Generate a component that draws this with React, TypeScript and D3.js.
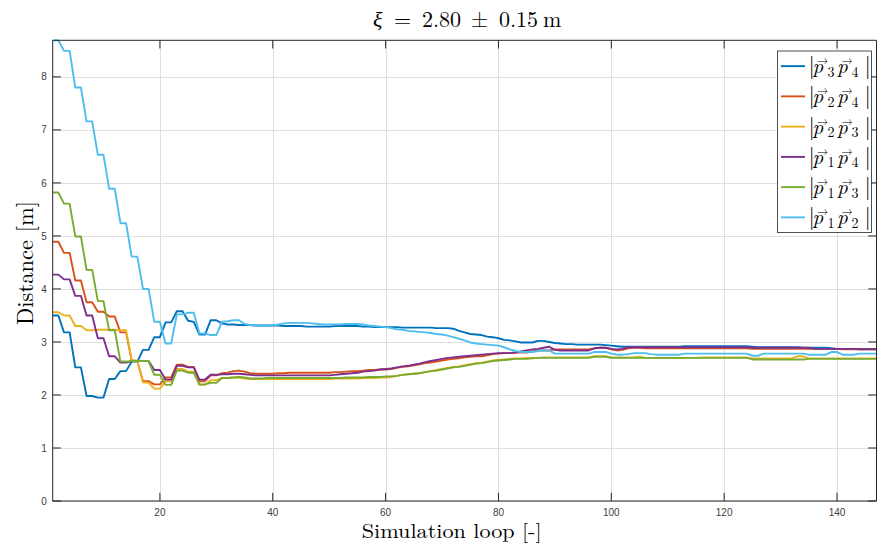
import React from 'react';
import * as d3 from 'd3';

// Series values, one per simulation loop (1..147)
const p34 = [
  3.50, 3.50, 3.18, 3.18, 2.52, 2.52, 1.98, 1.98, 1.95, 1.95,
  2.30, 2.30, 2.45, 2.45, 2.63, 2.63, 2.85, 2.85, 3.09, 3.09,
  3.37, 3.37, 3.58, 3.58, 3.40, 3.38, 3.14, 3.14, 3.41, 3.41,
  3.35, 3.33, 3.33, 3.32, 3.32, 3.32, 3.31, 3.31, 3.31, 3.31,
  3.31, 3.30, 3.30, 3.30, 3.30, 3.29, 3.29, 3.29, 3.29, 3.29,
  3.30, 3.30, 3.30, 3.30, 3.30, 3.29, 3.29, 3.28, 3.28, 3.28,
  3.28, 3.28, 3.27, 3.27, 3.27, 3.27, 3.27, 3.27, 3.26, 3.26,
  3.26, 3.25, 3.21, 3.18, 3.15, 3.14, 3.13, 3.10, 3.09, 3.07,
  3.04, 3.03, 3.01, 2.99, 2.99, 2.99, 3.02, 3.02, 3.00, 2.98,
  2.97, 2.96, 2.96, 2.95, 2.95, 2.95, 2.95, 2.95, 2.94, 2.93,
  2.92, 2.91, 2.91, 2.91, 2.91, 2.91, 2.91, 2.91, 2.91, 2.91,
  2.91, 2.91, 2.92, 2.92, 2.92, 2.92, 2.92, 2.92, 2.92, 2.92,
  2.92, 2.92, 2.92, 2.92, 2.91, 2.90, 2.90, 2.90, 2.90, 2.90,
  2.90, 2.90, 2.90, 2.89, 2.89, 2.89, 2.89, 2.89, 2.88, 2.87,
  2.87, 2.87, 2.87, 2.87, 2.87, 2.87, 2.87,
];
const p24 = [
  4.89, 4.89, 4.68, 4.68, 4.16, 4.16, 3.75, 3.75, 3.57, 3.57,
  3.48, 3.48, 3.18, 3.18, 2.65, 2.64, 2.26, 2.26, 2.20, 2.20,
  2.33, 2.33, 2.57, 2.57, 2.53, 2.53, 2.26, 2.26, 2.37, 2.37,
  2.41, 2.42, 2.45, 2.46, 2.44, 2.41, 2.40, 2.40, 2.40, 2.40,
  2.41, 2.41, 2.42, 2.42, 2.42, 2.42, 2.42, 2.42, 2.42, 2.42,
  2.43, 2.43, 2.44, 2.45, 2.45, 2.46, 2.47, 2.47, 2.48, 2.48,
  2.49, 2.51, 2.53, 2.54, 2.56, 2.58, 2.60, 2.61, 2.63, 2.65,
  2.67, 2.68, 2.69, 2.71, 2.72, 2.73, 2.73, 2.75, 2.77, 2.78,
  2.79, 2.79, 2.80, 2.80, 2.80, 2.82, 2.84, 2.84, 2.84, 2.86,
  2.86, 2.86, 2.86, 2.86, 2.86, 2.86, 2.88, 2.89, 2.89, 2.86,
  2.84, 2.85, 2.88, 2.89, 2.89, 2.88, 2.88, 2.88, 2.88, 2.88,
  2.88, 2.88, 2.88, 2.88, 2.88, 2.88, 2.88, 2.88, 2.88, 2.88,
  2.88, 2.88, 2.88, 2.88, 2.87, 2.87, 2.87, 2.87, 2.87, 2.87,
  2.87, 2.87, 2.87, 2.87, 2.87, 2.87, 2.87, 2.87, 2.87, 2.87,
  2.86, 2.86, 2.86, 2.86, 2.86, 2.86, 2.86,
];
const p23 = [
  3.56, 3.56, 3.50, 3.50, 3.30, 3.30, 3.22, 3.22, 3.23, 3.23,
  3.23, 3.23, 3.22, 3.22, 2.66, 2.64, 2.24, 2.23, 2.12, 2.12,
  2.26, 2.26, 2.49, 2.49, 2.44, 2.44, 2.19, 2.19, 2.28, 2.28,
  2.32, 2.32, 2.33, 2.33, 2.31, 2.30, 2.30, 2.30, 2.30, 2.30,
  2.30, 2.30, 2.30, 2.30, 2.30, 2.30, 2.30, 2.30, 2.30, 2.30,
  2.31, 2.31, 2.31, 2.31, 2.31, 2.32, 2.32, 2.32, 2.33, 2.33,
  2.34, 2.36, 2.38, 2.39, 2.40, 2.41, 2.43, 2.45, 2.47, 2.49,
  2.51, 2.53, 2.54, 2.56, 2.58, 2.60, 2.61, 2.63, 2.65, 2.66,
  2.67, 2.68, 2.69, 2.69, 2.70, 2.70, 2.70, 2.71, 2.71, 2.71,
  2.71, 2.71, 2.71, 2.71, 2.71, 2.71, 2.73, 2.73, 2.73, 2.71,
  2.71, 2.71, 2.71, 2.71, 2.72, 2.70, 2.70, 2.70, 2.70, 2.70,
  2.70, 2.70, 2.70, 2.70, 2.70, 2.71, 2.71, 2.71, 2.71, 2.71,
  2.71, 2.71, 2.71, 2.71, 2.69, 2.69, 2.69, 2.69, 2.69, 2.69,
  2.69, 2.69, 2.73, 2.73, 2.69, 2.69, 2.69, 2.69, 2.69, 2.69,
  2.69, 2.69, 2.69, 2.69, 2.69, 2.69, 2.69,
];
const p14 = [
  4.27, 4.27, 4.18, 4.18, 3.87, 3.87, 3.50, 3.50, 3.07, 3.07,
  2.73, 2.73, 2.61, 2.61, 2.64, 2.64, 2.64, 2.64, 2.47, 2.47,
  2.29, 2.29, 2.55, 2.55, 2.52, 2.52, 2.29, 2.29, 2.38, 2.38,
  2.39, 2.39, 2.40, 2.40, 2.39, 2.38, 2.37, 2.37, 2.37, 2.37,
  2.37, 2.37, 2.37, 2.37, 2.37, 2.37, 2.37, 2.37, 2.37, 2.37,
  2.38, 2.39, 2.40, 2.41, 2.42, 2.44, 2.45, 2.46, 2.48, 2.49,
  2.50, 2.52, 2.54, 2.55, 2.57, 2.59, 2.62, 2.64, 2.66, 2.68,
  2.70, 2.71, 2.72, 2.73, 2.74, 2.75, 2.76, 2.77, 2.78, 2.79,
  2.79, 2.79, 2.80, 2.82, 2.84, 2.86, 2.87, 2.89, 2.91, 2.85,
  2.84, 2.84, 2.84, 2.84, 2.84, 2.84, 2.88, 2.89, 2.89, 2.87,
  2.86, 2.87, 2.90, 2.90, 2.90, 2.90, 2.90, 2.90, 2.90, 2.90,
  2.90, 2.90, 2.90, 2.90, 2.90, 2.90, 2.90, 2.90, 2.90, 2.90,
  2.90, 2.90, 2.90, 2.90, 2.89, 2.89, 2.89, 2.89, 2.89, 2.89,
  2.89, 2.89, 2.89, 2.89, 2.89, 2.87, 2.87, 2.87, 2.87, 2.87,
  2.87, 2.87, 2.87, 2.86, 2.86, 2.86, 2.86,
];
const p13 = [
  5.82, 5.82, 5.61, 5.61, 4.99, 4.99, 4.36, 4.36, 3.77, 3.77,
  3.22, 3.22, 2.63, 2.63, 2.64, 2.64, 2.64, 2.64, 2.38, 2.38,
  2.19, 2.19, 2.46, 2.46, 2.42, 2.42, 2.20, 2.20, 2.23, 2.23,
  2.32, 2.32, 2.33, 2.34, 2.33, 2.31, 2.31, 2.31, 2.32, 2.32,
  2.32, 2.32, 2.32, 2.32, 2.32, 2.32, 2.32, 2.32, 2.32, 2.32,
  2.32, 2.32, 2.33, 2.33, 2.33, 2.33, 2.34, 2.34, 2.34, 2.35,
  2.35, 2.36, 2.38, 2.39, 2.40, 2.41, 2.43, 2.45, 2.46, 2.48,
  2.50, 2.52, 2.53, 2.55, 2.57, 2.59, 2.60, 2.62, 2.64, 2.65,
  2.66, 2.67, 2.68, 2.68, 2.68, 2.69, 2.70, 2.70, 2.70, 2.70,
  2.70, 2.70, 2.70, 2.70, 2.70, 2.70, 2.72, 2.72, 2.72, 2.70,
  2.70, 2.70, 2.70, 2.70, 2.70, 2.70, 2.70, 2.70, 2.70, 2.70,
  2.70, 2.70, 2.70, 2.70, 2.70, 2.70, 2.70, 2.70, 2.70, 2.70,
  2.70, 2.70, 2.70, 2.70, 2.67, 2.67, 2.67, 2.67, 2.67, 2.67,
  2.67, 2.67, 2.67, 2.67, 2.68, 2.68, 2.68, 2.68, 2.68, 2.68,
  2.68, 2.68, 2.68, 2.68, 2.68, 2.68, 2.68,
];
const p12 = [
  8.69, 8.69, 8.49, 8.49, 7.80, 7.80, 7.16, 7.16, 6.53, 6.53,
  5.89, 5.89, 5.24, 5.24, 4.61, 4.61, 4.00, 4.00, 3.38, 3.38,
  2.97, 2.97, 3.52, 3.52, 3.55, 3.55, 3.16, 3.16, 3.13, 3.13,
  3.38, 3.39, 3.41, 3.41, 3.34, 3.32, 3.31, 3.31, 3.31, 3.31,
  3.33, 3.35, 3.36, 3.36, 3.36, 3.36, 3.35, 3.34, 3.33, 3.33,
  3.33, 3.33, 3.34, 3.34, 3.34, 3.33, 3.31, 3.30, 3.29, 3.28,
  3.26, 3.24, 3.23, 3.21, 3.20, 3.19, 3.18, 3.17, 3.15, 3.14,
  3.12, 3.09, 3.06, 3.03, 2.99, 2.97, 2.96, 2.95, 2.94, 2.93,
  2.90, 2.86, 2.83, 2.81, 2.81, 2.81, 2.83, 2.84, 2.84, 2.78,
  2.78, 2.78, 2.78, 2.78, 2.78, 2.78, 2.81, 2.81, 2.81, 2.78,
  2.76, 2.76, 2.77, 2.79, 2.79, 2.79, 2.77, 2.76, 2.76, 2.76,
  2.76, 2.76, 2.78, 2.78, 2.78, 2.78, 2.78, 2.78, 2.78, 2.78,
  2.78, 2.78, 2.78, 2.78, 2.74, 2.74, 2.78, 2.78, 2.78, 2.78,
  2.78, 2.78, 2.78, 2.78, 2.76, 2.76, 2.76, 2.76, 2.81, 2.81,
  2.76, 2.76, 2.76, 2.78, 2.78, 2.78, 2.78,
];

const seriesNames = [
  ['3', '4'],
  ['2', '4'],
  ['2', '3'],
  ['1', '4'],
  ['1', '3'],
  ['1', '2'],
];
const seriesValues = [p34, p24, p23, p14, p13, p12];
const seriesColors = ['#0072BD', '#D95319', '#EDB120', '#7E2F8E', '#77AC30', '#4DBEEE'];

const xTicks = [20, 40, 60, 80, 100, 120, 140];
const yTicks = [0, 1, 2, 3, 4, 5, 6, 7, 8];
const xDomain = [1, 147];
const yDomain = [0, 8.69];

const titleParts = { xi: 'ξ', eq: '=', a: '2.80', pm: '±', b: '0.15', unit: 'm' };
const xLabel = 'Simulation loop [-]';
const yLabel = 'Distance [m]';

const W = 878;
const H = 554;
const L = 52.7;
const R = 876.5;
const T = 40.3;
const B = 501;

export default function App() {
  const x = d3.scaleLinear().domain(xDomain).range([L, R]);
  const y = d3.scaleLinear().domain(yDomain).range([B, T]);
  const line = d3
    .line<number>()
    .x((_, i) => x(i + 1))
    .y((d) => y(d));

  const serif = "'Latin Modern Roman', 'CMU Serif', 'Liberation Serif', 'DejaVu Serif', serif";
  const sans = "'Liberation Sans', Arial, Helvetica, sans-serif";
  const axisColor = '#262626';
  const gridColor = '#dfdfdf';
  const tickLen = 8.2;

  const legX0 = 777.5;
  const legX1 = 871.5;
  const legY0 = 51;
  const legY1 = 232.5;
  const rowH = (legY1 - legY0) / 6;

  return (
    <svg
      width={W}
      height={H}
      viewBox={`0 0 ${W} ${H}`}
      style={{ position: 'absolute', left: 0, top: 0, background: '#fff' }}
    >
      <rect x={0} y={0} width={W} height={H} fill="#fff" />
      <defs>
        <clipPath id="plotclip">
          <rect x={L} y={T - 1} width={R - L} height={B - T + 1} />
        </clipPath>
      </defs>

      {/* grid */}
      <g>
        {xTicks.map((t) => (
          <line key={'gx' + t} x1={Math.round(x(t)) + 0.5} x2={Math.round(x(t)) + 0.5} y1={T} y2={B} stroke={gridColor} strokeWidth={1} />
        ))}
        {yTicks.map((t) => (
          <line key={'gy' + t} x1={L} x2={R} y1={Math.round(y(t)) + 0.5} y2={Math.round(y(t)) + 0.5} stroke={gridColor} strokeWidth={1} />
        ))}
      </g>

      {/* lines */}
      <g clipPath="url(#plotclip)">
        {seriesValues.map((vals, k) => (
          <path
            key={'s' + k}
            d={line(vals) || ''}
            fill="none"
            stroke={seriesColors[k]}
            strokeWidth={1.9}
            strokeLinejoin="round"
          />
        ))}
      </g>

      {/* axes box */}
      <g stroke={axisColor} strokeWidth={1} fill="none">
        <line x1={L} x2={L} y1={T} y2={B} />
        <line x1={L} x2={R} y1={B} y2={B} />
        <line x1={L} x2={R} y1={T} y2={T} />
        <line x1={R} x2={R} y1={T} y2={B} />
        {xTicks.map((t) => (
          <g key={'tx' + t}>
            <line x1={x(t)} x2={x(t)} y1={B} y2={B - tickLen} />
            <line x1={x(t)} x2={x(t)} y1={T} y2={T + tickLen} />
          </g>
        ))}
        {yTicks.map((t) => (
          <g key={'ty' + t}>
            <line x1={L} x2={L + tickLen} y1={y(t)} y2={y(t)} />
            <line x1={R} x2={R - tickLen} y1={y(t)} y2={y(t)} />
          </g>
        ))}
      </g>

      {/* tick labels */}
      <g fontFamily={sans} fontSize={10} fill="#404040">
        {xTicks.map((t) => (
          <text key={'lx' + t} x={x(t)} y={B + 15} textAnchor="middle">
            {t}
          </text>
        ))}
        {yTicks.map((t) => (
          <text key={'ly' + t} x={L - 6} y={y(t) + 3.6} textAnchor="end">
            {t}
          </text>
        ))}
      </g>

      {/* title */}
      <text fontFamily={serif} fontSize={22} fill="#000" y={27}>
        <tspan x={373} fontStyle="italic">{titleParts.xi}</tspan>
        <tspan x={394}>{titleParts.eq}</tspan>
        <tspan x={422}>{titleParts.a}</tspan>
        <tspan x={471}>{titleParts.pm}</tspan>
        <tspan x={499}>{titleParts.b}</tspan>
        <tspan x={543}>{titleParts.unit}</tspan>
      </text>

      {/* axis labels */}
      <text
        x={451.7}
        y={538}
        fontFamily={serif}
        fontSize={20}
        textAnchor="middle"
        fill="#000"
        textLength={180}
        lengthAdjust="spacingAndGlyphs"
      >
        {xLabel}
      </text>
      <text
        transform={`translate(32.5,263) rotate(-90)`}
        fontFamily={serif}
        fontSize={23}
        textAnchor="middle"
        fill="#000"
        textLength={124}
        lengthAdjust="spacingAndGlyphs"
      >
        {yLabel}
      </text>

      {/* legend */}
      <rect x={legX0} y={legY0} width={legX1 - legX0} height={legY1 - legY0} fill="#fff" stroke={axisColor} strokeWidth={0.8} />
      {seriesNames.map((nm, k) => {
        const cy = legY0 + rowH * (k + 0.5);
        return (
          <g key={'leg' + k}>
            <line x1={781} x2={805} y1={cy} y2={cy} stroke={seriesColors[k]} strokeWidth={1.9} />
            <text fontFamily={serif} fill="#000" fontSize={21}>
              <tspan x={808.5} y={cy + 7} fontSize={23}>|</tspan>
              <tspan x={812.5} y={cy + 7} fontStyle="italic">p</tspan>
              <tspan x={827.5} y={cy + 10.5} fontSize={14}>{nm[0]}</tspan>
              <tspan x={837} y={cy + 7} fontStyle="italic">p</tspan>
              <tspan x={851.5} y={cy + 10.5} fontSize={14}>{nm[1]}</tspan>
              <tspan x={864.5} y={cy + 7} fontSize={23}>|</tspan>
              <tspan x={817} y={cy - 2} fontSize={11}>→</tspan>
              <tspan x={841.5} y={cy - 2} fontSize={11}>→</tspan>
            </text>
          </g>
        );
      })}
    </svg>
  );
}
